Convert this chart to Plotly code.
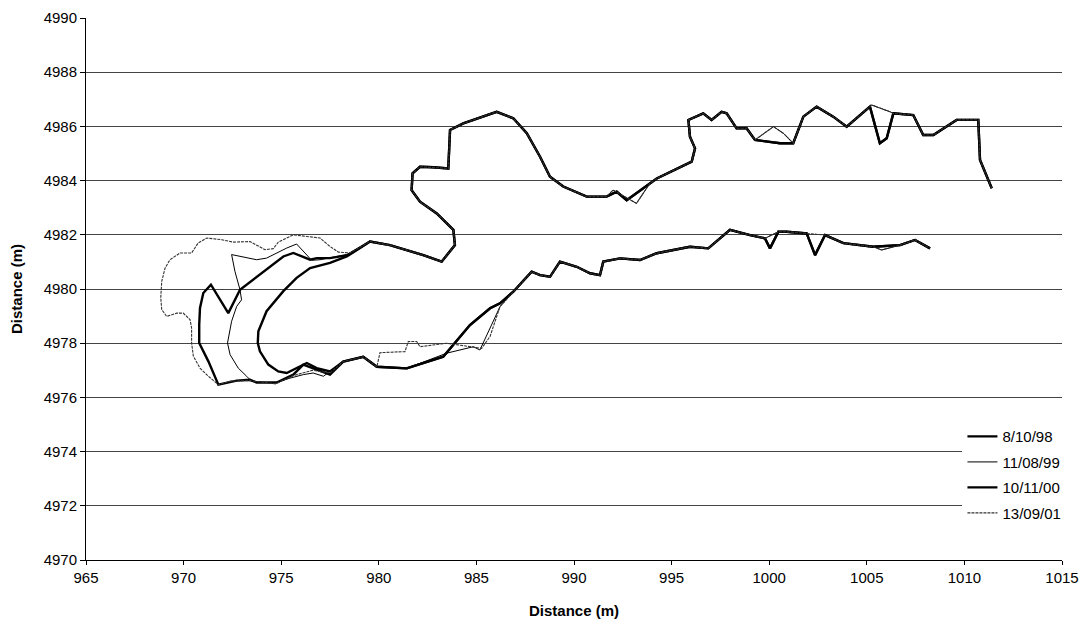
import plotly.graph_objects as go

# survey dates shown in the legend
dates = ['8/10/98', '11/08/99', '10/11/00', '13/09/01']

# --- upper shoreline, from the east end going west (shared parts + small variants)
a_x = [1011.40, 1010.80, 1010.71, 1009.60, 1008.41, 1007.89, 1007.38, 1006.36]
a_y = [4983.72, 4984.76, 4986.24, 4986.24, 4985.68, 4985.68, 4986.42, 4986.48]
b_thick_x = [1006.02, 1005.67, 1005.16]
b_thick_y = [4985.56, 4985.38, 4986.73]
b_thin_x = [1006.19, 1005.25]
b_thin_y = [4986.54, 4986.79]
c_x = [1003.97, 1003.28, 1002.43, 1001.75, 1001.23]
c_y = [4985.99, 4986.36, 4986.73, 4986.36, 4985.38]
d_thick_x = [1000.55, 999.95, 999.27]
d_thick_y = [4985.38, 4985.44, 4985.50]
d_thin_x = [1000.72, 1000.22, 999.87, 999.27]
d_thin_y = [4985.75, 4985.99, 4985.80, 4985.50]
e_x = [998.84, 998.33, 997.82, 997.56, 997.05, 996.62, 995.86, 995.94, 996.20, 996.03, 994.24, 993.89]
e_y = [4985.93, 4985.93, 4986.48, 4986.54, 4986.24, 4986.48, 4986.24, 4985.62, 4985.19, 4984.70, 4984.08, 4983.90]
f_thick_x = [993.21, 992.70, 992.19, 991.67]
f_thick_y = [4983.53, 4983.28, 4983.59, 4983.41]
f_thin_x = [993.20, 992.00, 991.67]
f_thin_y = [4983.16, 4983.65, 4983.41]
g_x = [990.65, 989.45, 988.77, 988.26, 987.58, 986.89, 986.04, 984.33, 983.65, 983.56, 982.79,
       982.11, 981.73, 981.68, 982.11, 982.97, 983.82, 983.90, 983.22, 982.28, 980.57, 979.55]
g_y = [4983.41, 4983.78, 4984.14, 4984.88, 4985.75, 4986.30, 4986.54, 4986.11, 4985.87, 4984.45, 4984.49,
       4984.51, 4984.27, 4983.65, 4983.22, 4982.79, 4982.18, 4981.62, 4981.01, 4981.25, 4981.62, 4981.75]

# --- western tip of the spit, one per survey
tip98_x = [979.04, 978.36, 977.50, 976.48, 975.79, 975.11, 974.25, 973.83, 973.80, 973.91, 974.34,
           974.85, 975.28, 975.79, 976.31, 976.82, 977.50]
tip98_y = [4981.51, 4981.20, 4980.96, 4980.77, 4980.41, 4979.92, 4979.18, 4978.44, 4978.01, 4977.70, 4977.21,
           4976.96, 4976.90, 4977.08, 4977.27, 4977.08, 4976.96]
tip99_x = [978.36, 977.84, 976.99, 976.56, 975.79, 975.28, 974.25, 973.74, 972.46, 972.63, 972.89, 972.97,
           972.72, 972.46, 972.25, 972.38, 972.80, 973.23, 973.49, 974.60, 974.94, 975.45, 976.13, 976.64, 977.16]
tip99_y = [4981.27, 4981.20, 4981.08, 4981.06, 4981.66, 4981.51, 4981.14, 4981.08, 4981.27, 4980.65, 4979.97, 4979.60,
           4979.36, 4978.81, 4978.01, 4977.58, 4977.08, 4976.78, 4976.59, 4976.53, 4976.59, 4976.71, 4976.84, 4976.90, 4976.78]
tip00_x = [978.40, 977.50, 976.82, 976.48, 975.62, 975.11, 972.89, 972.29, 971.40, 971.01, 970.84, 970.80,
           970.80, 971.27, 971.78, 972.72, 973.40, 973.74, 974.77, 975.62, 976.13, 976.64, 977.50]
tip00_y = [4981.25, 4981.14, 4981.14, 4981.08, 4981.33, 4981.20, 4979.97, 4979.11, 4980.16, 4979.85, 4979.30, 4978.68,
           4978.01, 4977.33, 4976.47, 4976.62, 4976.65, 4976.55, 4976.55, 4976.84, 4977.21, 4977.08, 4976.84]
tip01_x = [978.52, 977.93, 977.50, 976.99, 976.31, 975.62, 974.85, 974.60, 974.17, 973.40, 972.55, 971.95,
           971.18, 970.75, 970.41, 969.82, 969.30, 969.05, 968.88, 968.83, 968.88, 969.13, 969.65, 969.98,
           970.33, 970.41, 970.41, 970.50, 970.84, 971.27, 971.78, 972.40, 973.40, 974.70, 975.60, 976.60, 977.50]
tip01_y = [4981.33, 4981.36, 4981.57, 4981.88, 4981.94, 4982.00, 4981.73, 4981.49, 4981.45, 4981.75, 4981.73, 4981.82,
           4981.88, 4981.70, 4981.33, 4981.33, 4981.08, 4980.77, 4980.28, 4979.67, 4979.24, 4978.99, 4979.11, 4979.11,
           4978.87, 4978.56, 4978.01, 4977.52, 4977.08, 4976.78, 4976.47, 4976.60, 4976.62, 4976.50, 4976.80, 4977.00, 4976.90]

# --- lower shoreline, going east
l1_x = [978.18, 979.20, 979.90]
l1_y = [4977.32, 4977.50, 4977.13]
l2_thick_x = [981.43, 983.30, 984.67, 985.70, 986.21]
l2_thick_y = [4977.07, 4977.50, 4978.67, 4979.29, 4979.47]
l2_99_x = [981.43, 983.47, 984.84, 985.18, 985.53, 985.87, 986.21]
l2_99_y = [4977.07, 4977.63, 4977.87, 4977.75, 4978.30, 4978.86, 4979.35]
l2_01_x = [980.06, 981.34, 981.51, 981.94, 982.11, 983.47, 985.27, 985.70, 986.21]
l2_01_y = [4977.65, 4977.69, 4978.06, 4978.06, 4977.87, 4978.00, 4977.81, 4978.25, 4979.35]
l3_x = [986.89, 987.83, 988.26, 988.77, 989.28, 990.14, 990.82, 991.33, 991.50, 992.36, 993.38,
        994.24, 995.09, 995.94, 996.88, 997.99, 999.02, 999.78]
l3_y = [4979.90, 4980.64, 4980.51, 4980.45, 4981.01, 4980.82, 4980.58, 4980.51, 4981.01, 4981.13, 4981.07,
        4981.32, 4981.44, 4981.56, 4981.50, 4982.18, 4981.99, 4981.87]
l4_x = [1000.04]
l4_y = [4981.50]
l5_x = [1000.47, 1000.89, 1001.92]
l5_y = [4982.11, 4982.11, 4982.05]
l6_x = [1002.35]
l6_y = [4981.25]
l7_x = [1002.86, 1003.80, 1004.65, 1005.33]
l7_y = [4981.99, 4981.69, 4981.62, 4981.56]
l8_x = [1005.76]
l8_y = [4981.44]
l9_x = [1006.70, 1007.47, 1008.24]
l9_y = [4981.62, 4981.81, 4981.50]


def join(*segs):
    xs, ys = [], []
    for sx, sy in segs:
        xs += sx
        ys += sy
    return xs, ys


series = {
    '8/10/98': join((a_x, a_y), (b_thick_x, b_thick_y), (c_x, c_y), (d_thick_x, d_thick_y), (e_x, e_y),
                    (f_thick_x, f_thick_y), (g_x, g_y), (tip98_x, tip98_y), (l1_x, l1_y),
                    (l2_thick_x, l2_thick_y), (l3_x, l3_y), (l4_x, l4_y), (l5_x, l5_y), (l6_x, l6_y),
                    (l7_x, l7_y), (l9_x, l9_y)),
    '11/08/99': join((a_x, a_y), (b_thin_x, b_thin_y), (c_x, c_y), (d_thin_x, d_thin_y), (e_x, e_y),
                     (f_thin_x, f_thin_y), (g_x, g_y), (tip99_x, tip99_y), (l1_x, l1_y),
                     (l2_99_x, l2_99_y), (l3_x, l3_y), (l5_x, l5_y), (l6_x, l6_y),
                     (l7_x, l7_y), (l8_x, l8_y), (l9_x, l9_y)),
    '10/11/00': join((a_x, a_y), (b_thick_x, b_thick_y), (c_x, c_y), (d_thick_x, d_thick_y), (e_x, e_y),
                     (f_thick_x, f_thick_y), (g_x, g_y), (tip00_x, tip00_y), (l1_x, l1_y),
                     (l2_thick_x, l2_thick_y), (l3_x, l3_y), (l4_x, l4_y), (l5_x, l5_y), (l6_x, l6_y),
                     (l7_x, l7_y), (l9_x, l9_y)),
    '13/09/01': join((a_x, a_y), (b_thin_x, b_thin_y), (c_x, c_y), (d_thin_x, d_thin_y), (e_x, e_y),
                     (f_thin_x, f_thin_y), (g_x, g_y), (tip01_x, tip01_y), (l1_x, l1_y),
                     (l2_01_x, l2_01_y), (l3_x, l3_y), (l5_x, l5_y),
                     (l7_x, l7_y), (l8_x, l8_y), (l9_x, l9_y)),
}

styles = {
    '8/10/98': dict(color='black', width=2.4),
    '11/08/99': dict(color='black', width=1),
    '10/11/00': dict(color='black', width=2.4),
    '13/09/01': dict(color='#333333', width=1.1, dash='3px,1px'),
}

fig = go.Figure()
for name in dates:
    xs, ys = series[name]
    fig.add_trace(go.Scatter(x=xs, y=ys, mode='lines', name=name, legendgroup=name,
                             line=styles[name]))

# the page adds an 8px body margin, so the figure is sized to fit inside the window
font = 'Liberation Sans, Arial, sans-serif'
fig.update_layout(
    width=1071, height=611,
    margin=dict(l=78, r=17, t=10, b=59),
    paper_bgcolor='white', plot_bgcolor='white',
    font=dict(family=font, size=15, color='black'),
    showlegend=True,
    legend=dict(x=0.898, y=0.258, xanchor='left', yanchor='top', bgcolor='white',
                tracegroupgap=3, font=dict(size=15)),
    xaxis=dict(range=[965, 1015], dtick=5, tick0=965, showgrid=False, zeroline=False,
               showline=True, linecolor='black', linewidth=1, ticks='outside', ticklen=4,
               tickcolor='black', automargin=False,
               title=dict(text='<b>Distance (m)</b>', standoff=22, font=dict(size=15))),
    yaxis=dict(range=[4970, 4990], dtick=2, tick0=4970, showgrid=True, gridcolor='#444444',
               gridwidth=1, zeroline=False, showline=True, linecolor='black', linewidth=1,
               ticks='outside', ticklen=5, tickcolor='black', automargin=False,
               title=dict(text='<b>Distance (m)</b>', standoff=18, font=dict(size=15))),
)

fig.write_html('out.html')
